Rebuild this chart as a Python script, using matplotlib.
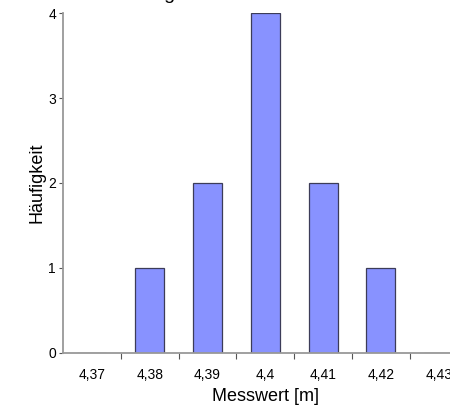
import matplotlib
matplotlib.use('Agg')
import matplotlib.pyplot as plt

plt.rcParams['font.family'] = ['Liberation Sans', 'DejaVu Sans']

# Daten
messwerte = ['4,37', '4,38', '4,39', '4,4', '4,41', '4,42', '4,43']
haeufigkeit = [0, 1, 2, 4, 2, 1, 0]
y_ticks = [0, 1, 2, 3, 4]

fig = plt.figure(figsize=(4.5, 4.08), dpi=100, facecolor='white')
# Achse reicht rechts über den Bildrand hinaus (wie im Original abgeschnitten)
ax = fig.add_axes([0.14, 0.135, 0.899, 0.833])

x = list(range(len(messwerte)))
ax.bar(x, haeufigkeit, width=0.5, color='#8892FF', edgecolor='#3c3c58',
       linewidth=0.9, zorder=2)

ax.set_xlim(-0.5, len(messwerte) - 0.5)
ax.set_ylim(0, 4)
ax.set_yticks(y_ticks)

# Kategorie-Beschriftung mittig, Striche an den Grenzen
ax.set_xticks(x)
ax.set_xticklabels(messwerte)
ax.set_xticks([i + 0.5 for i in x[:-1]], minor=True)
ax.tick_params(axis='x', which='major', length=0, pad=11, labelsize=10)
ax.tick_params(axis='x', which='minor', length=4, color='#555555', width=0.8)
ax.tick_params(axis='y', length=3, color='#555555', width=0.8, pad=2, labelsize=10)

for side in ['top', 'right']:
    ax.spines[side].set_visible(False)
for side in ['left', 'bottom']:
    ax.spines[side].set_color('#999999')
    ax.spines[side].set_linewidth(1.3)

ax.set_xlabel('Messwert [m]', fontsize=13, labelpad=4)
ax.set_ylabel('Häufigkeit', fontsize=13, labelpad=2)

# Titel oben fast vollständig abgeschnitten
fig.text(176 / 450, 1.0 + 1 / 408, 'Verteilung', ha='right', va='baseline',
         fontsize=14)

fig.savefig('out.png', dpi=100, facecolor='white')
